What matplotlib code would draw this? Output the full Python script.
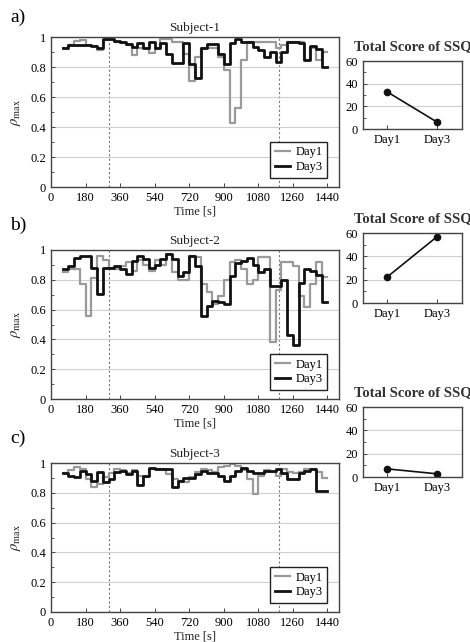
import numpy as np
import matplotlib
matplotlib.use('Agg')
import matplotlib.pyplot as plt
from matplotlib.ticker import MultipleLocator, FuncFormatter

plt.rcParams['font.family'] = ['Liberation Serif', 'DejaVu Serif']
plt.rcParams['mathtext.fontset'] = 'stix'

# 30 s windows from 60 s to 1440 s
edges = np.arange(60, 1441, 30)

a_day1 = [0.93, 0.95, 0.975, 0.98, 0.95, 0.94, 0.915, 0.98, 0.985, 0.97,
          0.96, 0.95, 0.88, 0.925, 0.925, 0.895, 0.93, 0.985, 0.985, 0.97,
          0.97, 0.89, 0.71, 0.87, 0.93, 0.93, 0.93, 0.87, 0.78, 0.425,
          0.525, 0.845, 0.97, 0.97, 0.97, 0.97, 0.97, 0.925, 0.95, 0.97,
          0.97, 0.97, 0.85, 0.93, 0.85, 0.9]
a_day3 = [0.93, 0.95, 0.95, 0.95, 0.945, 0.94, 0.925, 0.985, 0.985, 0.975,
          0.965, 0.955, 0.935, 0.96, 0.925, 0.965, 0.93, 0.96, 0.89, 0.825,
          0.825, 0.96, 0.82, 0.725, 0.93, 0.955, 0.955, 0.89, 0.82, 0.96,
          0.985, 0.97, 0.97, 0.935, 0.915, 0.87, 0.9, 0.835, 0.9, 0.97,
          0.965, 0.96, 0.85, 0.94, 0.92, 0.8]

b_day1 = [0.85, 0.87, 0.87, 0.77, 0.56, 0.81, 0.96, 0.93, 0.88, 0.87,
          0.89, 0.92, 0.86, 0.93, 0.9, 0.86, 0.93, 0.9, 0.97, 0.85,
          0.8, 0.8, 0.96, 0.95, 0.77, 0.72, 0.64, 0.69, 0.8, 0.92,
          0.93, 0.87, 0.77, 0.8, 0.95, 0.95, 0.38, 0.73, 0.92, 0.92,
          0.89, 0.69, 0.62, 0.77, 0.92, 0.82]
b_day3 = [0.871, 0.893, 0.949, 0.96, 0.96, 0.882, 0.705, 0.882, 0.882, 0.893,
          0.871, 0.838, 0.927, 0.96, 0.938, 0.882, 0.9, 0.94, 0.971, 0.938,
          0.827, 0.849, 0.96, 0.893, 0.56, 0.627, 0.66, 0.649, 0.638, 0.827,
          0.916, 0.927, 0.949, 0.9, 0.85, 0.87, 0.76, 0.76, 0.8, 0.43,
          0.36, 0.78, 0.87, 0.86, 0.83, 0.65]

c_day1 = [0.93, 0.95, 0.97, 0.96, 0.893, 0.838, 0.86, 0.905, 0.93, 0.96,
          0.95, 0.93, 0.95, 0.916, 0.905, 0.96, 0.96, 0.96, 0.927, 0.893,
          0.88, 0.87, 0.905, 0.94, 0.96, 0.95, 0.94, 0.97, 0.98, 0.99,
          0.98, 0.95, 0.89, 0.793, 0.916, 0.95, 0.94, 0.916, 0.96, 0.94,
          0.93, 0.94, 0.96, 0.96, 0.94, 0.9]
c_day3 = [0.931, 0.916, 0.905, 0.949, 0.927, 0.882, 0.938, 0.871, 0.893, 0.938,
          0.949, 0.927, 0.949, 0.849, 0.916, 0.965, 0.96, 0.96, 0.96, 0.84,
          0.88, 0.9, 0.9, 0.924, 0.947, 0.936, 0.936, 0.913, 0.88, 0.913,
          0.947, 0.969, 0.947, 0.936, 0.936, 0.947, 0.947, 0.962, 0.936, 0.89,
          0.89, 0.936, 0.947, 0.958, 0.815, 0.815]

ssq_days = ['Day1', 'Day3']
ssq_a = [33, 6]
ssq_b = [22, 57]
ssq_c = [7, 2.7]

subjects = ['Subject-1', 'Subject-2', 'Subject-3']
tags = ['a)', 'b)', 'c)']
events = [300, 1190]
xticks = np.arange(0, 1441, 180)

W, H = 470, 642
fig = plt.figure(figsize=(W / 100, H / 100), dpi=100)

def box(x0, y0, x1, y1):
    # pixel box -> figure fraction
    return [x0 / W, 1 - y1 / H, (x1 - x0) / W, (y1 - y0) / H]

main_boxes = [(51, 37, 339, 187), (51, 250, 339, 399), (51, 463, 339, 612)]
ssq_boxes = [(363, 61, 462, 129), (363, 233, 462, 303), (363, 407, 462, 477)]
tag_y = [17, 225, 438]

frame_col = '#444444'
grid_col = '#d0d0d0'
gray_col = '#9a9a9a'

def style(ax):
    for s in ax.spines.values():
        s.set_color(frame_col)
        s.set_linewidth(1.0)
    ax.tick_params(direction='in', length=3, width=0.7, color=frame_col,
                   labelsize=9, top=False, right=False)
    ax.tick_params(which='minor', direction='in', length=2, width=0.6, color=frame_col,
                   top=False, right=False)

series = [(a_day1, a_day3), (b_day1, b_day3), (c_day1, c_day3)]
ssqs = [ssq_a, ssq_b, ssq_c]

for k in range(3):
    ax = fig.add_axes(box(*main_boxes[k]))
    d1, d3 = series[k]
    ax.step(edges, np.append(d1, d1[-1]), where='post', color=gray_col, lw=1.6, label='Day1')
    ax.step(edges, np.append(d3, d3[-1]), where='post', color='#111111', lw=2.0, label='Day3')
    for ev in events:
        ax.axvline(ev, color='#777777', lw=0.8, ls=(0, (2, 2)), zorder=0)
    ax.set_xlim(0, 1500)
    ax.set_ylim(0, 1)
    ax.set_xticks(xticks)
    ax.set_yticks([0, 0.2, 0.4, 0.6, 0.8, 1])
    ax.yaxis.set_minor_locator(MultipleLocator(0.1))
    ax.yaxis.set_major_formatter(FuncFormatter(lambda v, p: '%g' % round(v, 1)))
    ax.grid(axis='y', color=grid_col, lw=0.8, zorder=0)
    style(ax)
    ax.set_title(subjects[k], fontsize=9.5, pad=4, color='#222222')
    ax.set_xlabel('Time [s]', fontsize=9, labelpad=1, color='#222222')
    ax.set_ylabel(r'$\rho_{\mathrm{max}}$', fontsize=10.5, labelpad=5, color='#222222')
    leg = ax.legend(loc='lower right', bbox_to_anchor=(0.96, 0.06), borderaxespad=0,
                    fontsize=9, handlelength=1.2, handletextpad=0.4, borderpad=0.4,
                    labelspacing=0.2, fancybox=False, framealpha=1)
    leg.get_frame().set_edgecolor('#222222')
    leg.get_frame().set_linewidth(1.0)
    fig.text(10 / W, 1 - tag_y[k] / H, tags[k], fontsize=14, ha='left', va='center')

    sx = fig.add_axes(box(*ssq_boxes[k]))
    sx.plot(ssq_days, ssqs[k], color='#111111', lw=1.2, marker='o', markersize=4.5)
    sx.set_xlim(-0.47, 1.49)
    sx.set_ylim(0, 60)
    sx.set_yticks([0, 20, 40, 60])
    sx.yaxis.set_minor_locator(MultipleLocator(10))
    sx.grid(axis='y', color=grid_col, lw=0.8, zorder=0)
    style(sx)
    sx.set_title('Total Score of SSQ', fontsize=10.5, fontweight='bold', pad=8, color='#333333')

fig.savefig('out.png', dpi=100)
